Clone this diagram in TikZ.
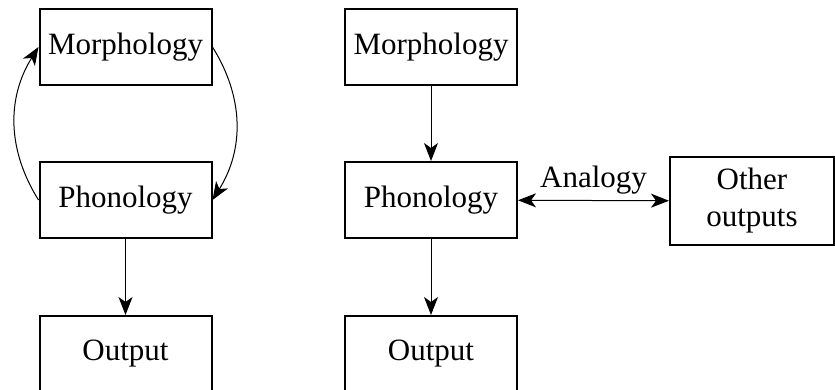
\documentclass[tikz,border=0pt]{standalone}
\usepackage{fontspec}
\setmainfont{Liberation Serif}
\usetikzlibrary{arrows.meta}

\begin{document}
\begin{tikzpicture}[x=0.5pt, y=-0.5pt, >={Stealth[length=9pt,width=7pt,inset=2.5pt]}, line width=0.5pt, font=\fontsize{15.5}{18.5}\selectfont]
\tikzset{
  levelbox/.style={draw, line width=1pt, align=center, minimum width=86pt, minimum height=38pt, inner sep=2pt},
  otherbox/.style={draw, line width=1pt, align=center, minimum width=82pt, minimum height=44pt, inner sep=2pt}
}
\useasboundingbox (0,0) rectangle (835,390);

% left: morphology and phonology feed each other
\node[levelbox] (mL) at (125.5,47) {Morphology};
\node[levelbox] (pL) at (125.5,200) {Phonology};
\node[levelbox] (oL) at (125.5,354) {Output};

% right: one-way route plus analogy
\node[levelbox] (mR) at (431,47) {Morphology};
\node[levelbox] (pR) at (431,200) {Phonology};
\node[levelbox] (oR) at (431,354) {Output};
\node[otherbox] (oth) at (752,201) {Other\\outputs};

\draw[->] (pL.west) to[bend left=32] (mL.west);
\draw[->] (mL.east) to[bend left=32] (pL.east);
\draw[->] (pL) -- (oL);

\draw[->] (mR) -- (pR);
\draw[->] (pR) -- (oR);
\draw[<->] (pR) -- node[midway, above, inner sep=3pt] {Analogy} (oth);
\end{tikzpicture}
\end{document}
